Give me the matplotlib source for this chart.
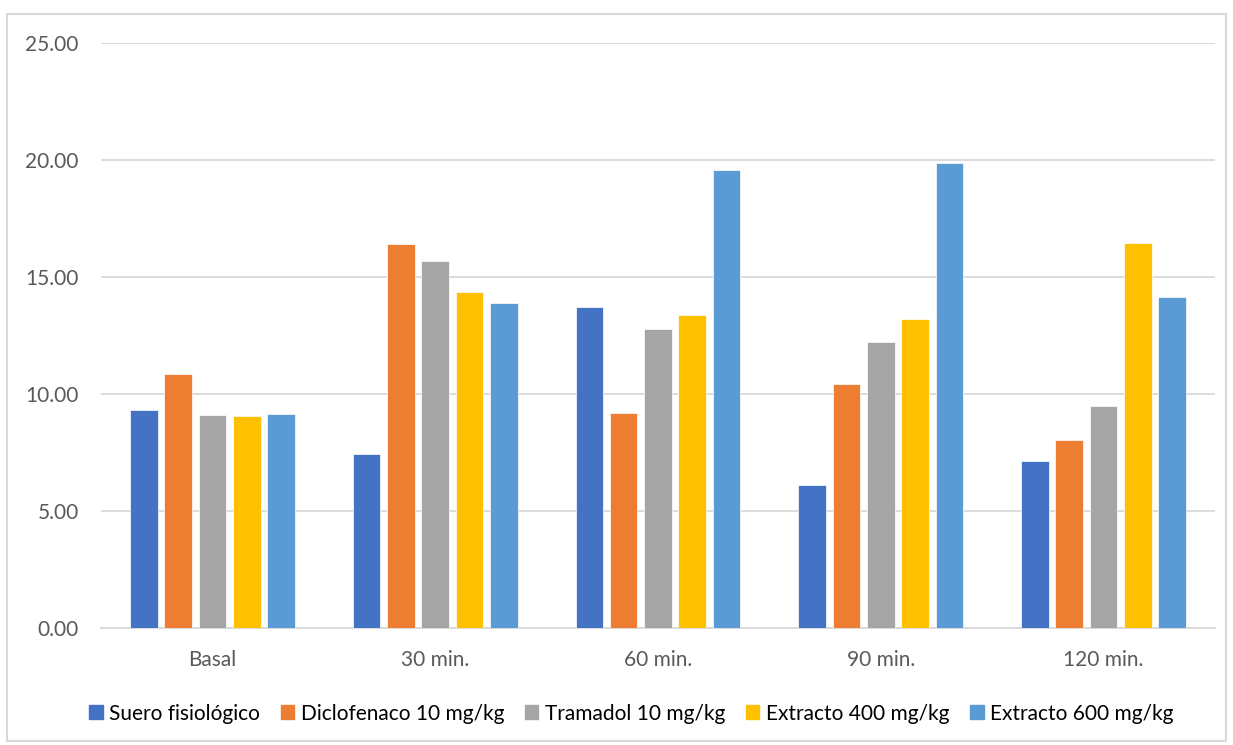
import matplotlib.pyplot as plt
import matplotlib.patches as mpatches
import numpy as np

plt.rcParams['font.family'] = ['Lato', 'DejaVu Sans']

categories = ['Basal', '30 min.', '60 min.', '90 min.', '120 min.']
series_names = ['Suero fisiológico', 'Diclofenaco 10 mg/kg', 'Tramadol 10 mg/kg',
                'Extracto 400 mg/kg', 'Extracto 600 mg/kg']
suero = [9.33, 7.44, 13.73, 6.13, 7.15]
diclofenaco = [10.87, 16.40, 9.18, 10.44, 8.04]
tramadol = [9.10, 15.70, 12.79, 12.24, 9.50]
extracto_400 = [9.08, 14.35, 13.39, 13.21, 16.48]
extracto_600 = [9.16, 13.89, 19.57, 19.87, 14.15]
yticks = [0, 5, 10, 15, 20, 25]

colors = ['#4472c4', '#ed7d31', '#a5a5a5', '#ffc000', '#5b9bd5']
all_series = [suero, diclofenaco, tramadol, extracto_400, extracto_600]

fig = plt.figure(figsize=(12.33, 7.45), dpi=100)
ax = fig.add_axes([0.0819, 0.157, 0.9035, 0.785])

x = np.arange(len(categories))
step = 0.154
width = 0.124
for j, (vals, col, name) in enumerate(zip(all_series, colors, series_names)):
    ax.bar(x + (j - 2) * step, vals, width, color=col, label=name, zorder=3,
           edgecolor='white', linewidth=0.5)

ax.set_xlim(-0.5, len(categories) - 0.5)
ax.set_ylim(0, 25)
ax.set_yticks(yticks)
ax.set_yticklabels([f'{v:.2f}' for v in yticks])
ax.set_xticks(x)
ax.set_xticklabels(categories)
ax.tick_params(axis='both', length=0, labelsize=15, colors='#595959')
ax.tick_params(axis='x', pad=16)
ax.tick_params(axis='y', pad=16)
ax.grid(True, axis='y', color='#d9d9d9', linewidth=1.3, zorder=0)
for s in ['top', 'right', 'left']:
    ax.spines[s].set_visible(False)
ax.spines['bottom'].set_color('#d9d9d9')
ax.spines['bottom'].set_linewidth(1.3)

handles = [mpatches.Patch(color=c) for c in colors]
fig.legend(handles, series_names, loc='center', bbox_to_anchor=(0.512, 0.042),
           ncol=5, frameon=False, fontsize=15, handlelength=0.65, handleheight=0.65,
           handletextpad=0.3, columnspacing=1.0, labelcolor='#000000')

# outer chart border
fig.patches.append(mpatches.Rectangle((7 / 1233, 0.005), 1219 / 1233, 0.976,
                                      transform=fig.transFigure, fill=False,
                                      edgecolor='#d9d9d9', linewidth=1.5))

fig.savefig('out.png', dpi=100)
